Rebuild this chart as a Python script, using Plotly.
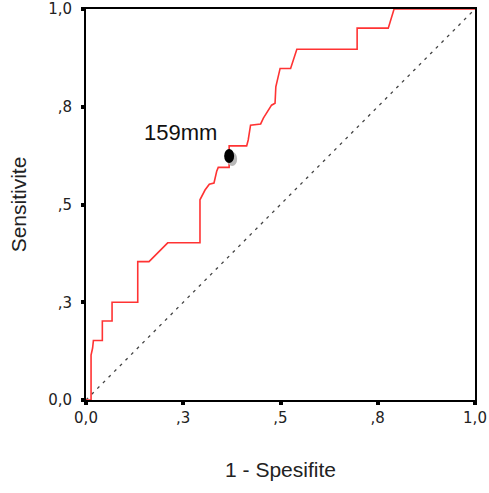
import plotly.graph_objects as go

# ROC curve vertices (1 - specificity, sensitivity)
fpr = [0.0, 0.013, 0.013, 0.017, 0.019, 0.042, 0.042, 0.067, 0.067, 0.133, 0.133,
       0.162, 0.21, 0.293, 0.293, 0.306, 0.317, 0.329, 0.336, 0.34, 0.368, 0.368,
       0.413, 0.417, 0.423, 0.449, 0.456, 0.477, 0.486, 0.488, 0.499, 0.526, 0.542,
       0.697, 0.697, 0.777, 0.792, 1.0]
tpr = [0.0, 0.0, 0.115, 0.133, 0.152, 0.152, 0.202, 0.202, 0.25, 0.25, 0.354,
       0.354, 0.402, 0.402, 0.512, 0.537, 0.552, 0.555, 0.585, 0.595, 0.595, 0.65,
       0.65, 0.665, 0.703, 0.706, 0.721, 0.754, 0.759, 0.801, 0.848, 0.848, 0.897,
       0.897, 0.951, 0.951, 1.0, 1.0]

ref_x = [0.0, 1.0]
ref_y = [0.0, 1.0]

cut_x = 0.368
cut_y = 0.624
cut_label = "159mm"
label_x = 0.242
label_y = 0.683

tick_vals = [0.0, 0.25, 0.5, 0.75, 1.0]
tick_text = ["0,0", ",3", ",5", ",8", "1,0"]

fig = go.Figure()
fig.add_trace(go.Scatter(x=ref_x, y=ref_y, mode="lines",
                         line=dict(color="#444444", width=1.3, dash="3px,5px"),
                         hoverinfo="skip"))
fig.add_trace(go.Scatter(x=fpr, y=tpr, mode="lines",
                         line=dict(color="#ff3333", width=1.6)))

# cutoff marker: grey shadow then black ellipse (pixel-sized around the data point)
fig.add_shape(type="circle", xref="x", yref="y",
              xsizemode="pixel", ysizemode="pixel", xanchor=cut_x, yanchor=cut_y,
              x0=-2, x1=8, y0=-10, y1=4, fillcolor="#b8b8b8", line=dict(width=0))
fig.add_shape(type="circle", xref="x", yref="y",
              xsizemode="pixel", ysizemode="pixel", xanchor=cut_x, yanchor=cut_y,
              x0=-5, x1=5, y0=-7, y1=7, fillcolor="black", line=dict(width=0))

fig.add_annotation(x=label_x, y=label_y, text=cut_label, showarrow=False,
                   font=dict(size=22, color="#111111", family="Liberation Sans, Arial"))

axis_common = dict(range=[0, 1], tickvals=tick_vals, ticktext=tick_text,
                   showgrid=False, zeroline=False, showline=True, linecolor="black",
                   linewidth=2, mirror=True, ticks="outside", ticklen=3, tickwidth=4,
                   tickcolor="black", automargin=False,
                   tickfont=dict(size=15, color="#222222", family="DejaVu Sans"))

fig.update_xaxes(**axis_common,
                 title=dict(text="1 - Spesifite", standoff=36,
                            font=dict(size=21, color="#222222", family="Liberation Sans, Arial")))
fig.update_yaxes(**axis_common, ticklabelstandoff=6,
                 title=dict(text="Sensitivite", standoff=16,
                            font=dict(size=21, color="#222222", family="Liberation Sans, Arial")))

fig.update_layout(width=489, height=493, showlegend=False,
                  plot_bgcolor="white", paper_bgcolor="white",
                  margin=dict(l=86, r=14, t=9, b=93))

# remove the default 8px page margin so the figure fills the window exactly
fig.write_html("out.html", config={"displayModeBar": False},
               post_script="document.body.style.margin='0';")
